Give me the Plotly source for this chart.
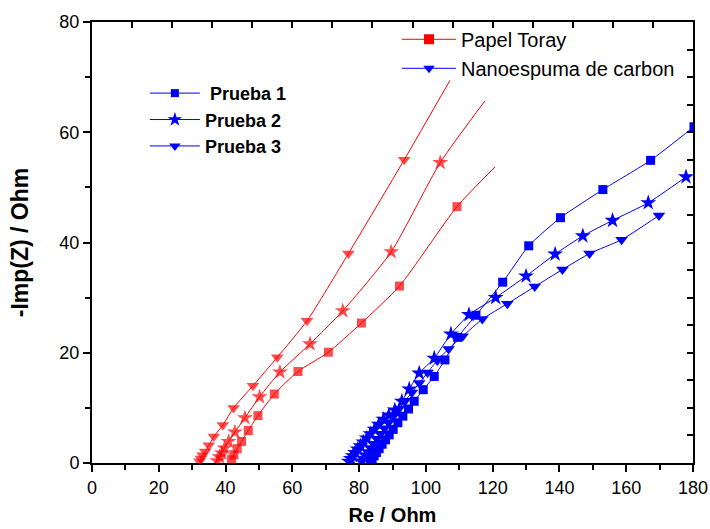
import plotly.graph_objects as go

# ---------------- data ----------------
# Papel Toray (red); last point of each list is the line tail (no marker)
toray_p1_x = [41.8, 42.5, 43.5, 44.8, 46.8, 49.7, 54.6, 61.7, 70.8, 80.7, 92.1, 109.3, 120.7]
toray_p1_y = [0.6, 1.5, 2.6, 3.9, 5.9, 8.6, 12.5, 16.6, 20.1, 25.4, 32.1, 46.5, 53.7]

toray_p2_x = [37.5, 38.2, 38.9, 39.7, 40.9, 42.8, 45.8, 50.2, 56.3, 65.3, 75.1, 89.6, 104.3, 117.7]
toray_p2_y = [0.4, 1.1, 1.8, 2.7, 3.9, 5.6, 8.2, 12.0, 16.5, 21.6, 27.6, 38.3, 54.5, 65.7]

toray_p3_x = [32.2, 32.6, 33.1, 33.9, 35.0, 36.5, 39.2, 42.4, 48.2, 55.5, 64.4, 76.8, 93.5, 107.2]
toray_p3_y = [0.3, 0.8, 1.4, 2.1, 3.2, 4.8, 6.9, 10.0, 14.0, 19.2, 25.8, 38.0, 55.0, 69.4]

# Nanoespuma de carbon (blue)
nano_p1_x = [83.4, 83.9, 84.5, 85.2, 86.0, 86.9, 87.9, 89.0, 90.2, 91.6, 93.1, 94.8, 96.5,
             99.2, 102.5, 105.7, 109.5, 115.0, 123.0, 130.8, 140.3, 153.0, 167.3, 180.3]
nano_p1_y = [0.3, 0.8, 1.3, 1.9, 2.6, 3.4, 4.2, 5.1, 6.1, 7.3, 8.5, 9.8, 11.2,
             13.3, 15.7, 18.7, 22.8, 26.8, 32.8, 39.4, 44.5, 49.6, 54.9, 61.0]

nano_p2_x = [76.9, 77.5, 78.1, 78.8, 79.6, 80.4, 81.3, 82.3, 83.4, 84.6, 85.9, 87.3, 88.9, 90.7,
             92.8, 95.0, 98.0, 102.5, 107.5, 112.9, 120.9, 130.0, 138.7, 147.0, 155.9, 166.6, 177.9]
nano_p2_y = [0.3, 0.8, 1.3, 1.9, 2.5, 3.1, 3.8, 4.5, 5.3, 6.1, 7.0, 7.9, 8.7, 9.6,
             11.2, 13.4, 16.3, 19.0, 23.4, 26.9, 30.0, 33.9, 37.9, 41.2, 44.0, 47.2, 51.9]

nano_p3_x = [80.8, 81.3, 81.9, 82.6, 83.4, 84.3, 85.3, 86.4, 87.6, 88.9, 90.4, 92.0, 93.8,
             95.8, 98.0, 100.5, 103.4, 106.8, 111.0, 116.9, 124.4, 132.6, 140.9, 149.0, 158.6, 169.8]
nano_p3_y = [0.3, 0.8, 1.4, 2.0, 2.7, 3.5, 4.4, 5.3, 6.3, 7.4, 8.6, 9.9, 11.3,
             12.8, 14.5, 16.4, 18.6, 20.7, 23.0, 26.1, 28.9, 32.0, 35.1, 38.0, 40.5, 44.9]

material_labels = ["Papel Toray", "Nanoespuma de carbon"]
test_labels = ["\u00a0Prueba 1", "Prueba 2", "Prueba 3"]

x_title = "Re / Ohm"
y_title = "-Imp(Z) / Ohm"

RED = "#ff0000"
BLUE = "#0000ff"
FONT = "Liberation Sans, Arial, sans-serif"

symbols = ["square", "star", "triangle-down"]
sizes = [9, 12, 11]

fig = go.Figure()

toray = [(toray_p1_x, toray_p1_y), (toray_p2_x, toray_p2_y), (toray_p3_x, toray_p3_y)]
for i, (xs, ys) in enumerate(toray):
    msize = [sizes[i]] * (len(xs) - 1) + [0]
    fig.add_trace(go.Scatter(
        x=xs, y=ys, mode="lines+markers", showlegend=False,
        line=dict(color=RED, width=1, shape="spline", smoothing=0.6),
        marker=dict(symbol=symbols[i], size=msize, color=RED, line=dict(width=0)),
    ))

nano = [(nano_p1_x, nano_p1_y), (nano_p2_x, nano_p2_y), (nano_p3_x, nano_p3_y)]
for i, (xs, ys) in enumerate(nano):
    fig.add_trace(go.Scatter(
        x=xs, y=ys, mode="lines+markers", showlegend=False,
        line=dict(color=BLUE, width=1, shape="spline", smoothing=0.5),
        marker=dict(symbol=symbols[i], size=sizes[i], color=BLUE, line=dict(width=0)),
    ))

# legend 1 : materials
leg1_colors = [RED, BLUE]
leg1_symbols = ["square", "triangle-down"]
for lab, c, s in zip(material_labels, leg1_colors, leg1_symbols):
    fig.add_trace(go.Scatter(
        x=[None], y=[None], mode="lines+markers", name=lab, legend="legend",
        line=dict(color=c, width=1), marker=dict(symbol=s, size=10, color=c),
    ))

# legend 2 : tests
for lab, s, sz in zip(test_labels, symbols, sizes):
    fig.add_trace(go.Scatter(
        x=[None], y=[None], mode="lines+markers", name=lab, legend="legend2",
        line=dict(color=BLUE, width=1), marker=dict(symbol=s, size=sz - 1, color=BLUE),
    ))

# invisible trace for the mirrored top/right axes
fig.add_trace(go.Scatter(x=[None], y=[None], xaxis="x2", yaxis="y2", showlegend=False))

axis_common = dict(showgrid=False, zeroline=False, showline=True, linecolor="black",
                   linewidth=2, tickcolor="black", tickwidth=1.5, automargin=False,
                   tickfont=dict(family=FONT, size=18, color="black"))

fig.update_layout(
    width=710, height=529,
    margin=dict(l=92, r=17, t=22, b=66),
    paper_bgcolor="white", plot_bgcolor="white",
    xaxis=dict(range=[0, 180], dtick=20, ticks="outside", ticklen=7,
               minor=dict(dtick=10, ticks="outside", ticklen=5, tickcolor="black"),
               title=dict(text="<b>" + x_title + "</b>", font=dict(family=FONT, size=20, color="black"),
                          standoff=11),
               **axis_common),
    yaxis=dict(range=[0, 80], dtick=20, ticks="outside", ticklen=7,
               minor=dict(dtick=10, ticks="outside", ticklen=5, tickcolor="black"),
               title=dict(text="<b>" + y_title + "</b>", font=dict(family=FONT, size=23, color="black"),
                          standoff=24),
               **axis_common),
    xaxis2=dict(overlaying="x", side="top", anchor="y", range=[0, 150], dtick=10, automargin=False,
                ticks="inside", ticklen=6, showticklabels=False, showgrid=False, zeroline=False,
                showline=True, linecolor="black", linewidth=2, tickcolor="black", tickwidth=1.5),
    yaxis2=dict(overlaying="y", side="right", anchor="x", range=[0, 160], dtick=10, automargin=False,
                ticks="inside", ticklen=6, showticklabels=False, showgrid=False, zeroline=False,
                showline=True, linecolor="black", linewidth=2, tickcolor="black", tickwidth=1.5),
    legend=dict(x=0.5075, y=1.005, xanchor="left", yanchor="top", bgcolor="rgba(0,0,0,0)",
                itemwidth=54,
                font=dict(family=FONT, size=20, color="black"), tracegroupgap=0),
    legend2=dict(x=0.088, y=0.88, xanchor="left", yanchor="top", bgcolor="rgba(0,0,0,0)",
                 itemwidth=50,
                 font=dict(family=FONT, size=18, color="black", weight="bold"), tracegroupgap=0),
)

fig.write_html("out.html")
